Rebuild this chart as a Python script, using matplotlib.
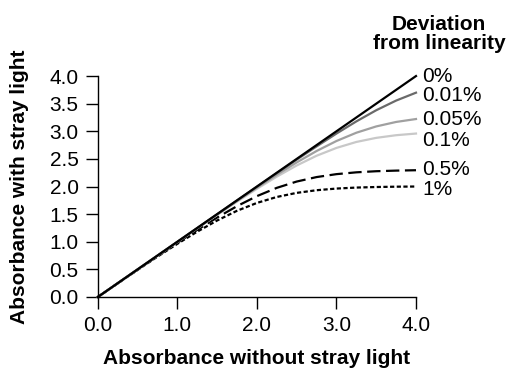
import matplotlib.pyplot as plt

plt.rcParams['font.family'] = ['Liberation Sans', 'DejaVu Sans']

# absorbance without stray light
x = [0.0, 0.25, 0.5, 0.75, 1.0, 1.25, 1.5, 1.75, 2.0,
     2.25, 2.5, 2.75, 3.0, 3.25, 3.5, 3.75, 4.0]

# absorbance with stray light, one list per deviation level
y_0 = [0.0, 0.25, 0.5, 0.75, 1.0, 1.25, 1.5, 1.75, 2.0,
       2.25, 2.5, 2.75, 3.0, 3.25, 3.5, 3.75, 4.0]
y_001 = [0.0, 0.25, 0.5, 0.75, 1.0, 1.249, 1.499, 1.748, 1.996,
         2.242, 2.487, 2.726, 2.959, 3.179, 3.381, 3.556, 3.699]
y_005 = [0.0, 0.25, 0.5, 0.749, 0.998, 1.246, 1.493, 1.738, 1.979,
         2.213, 2.436, 2.643, 2.824, 2.974, 3.088, 3.169, 3.222]
y_01 = [0.0, 0.25, 0.499, 0.748, 0.996, 1.243, 1.487, 1.727, 1.959,
        2.179, 2.381, 2.557, 2.699, 2.807, 2.881, 2.929, 2.959]
y_05 = [0.0, 0.248, 0.495, 0.740, 0.981, 1.215, 1.439, 1.645, 1.826,
        1.976, 2.090, 2.171, 2.224, 2.257, 2.277, 2.288, 2.295]
y_1 = [0.0, 0.247, 0.491, 0.731, 0.963, 1.183, 1.385, 1.561, 1.703,
       1.811, 1.885, 1.933, 1.963, 1.981, 1.991, 1.997, 2.000]

labels = ['0%', '0.01%', '0.05%', '0.1%', '0.5%', '1%']
series = [y_0, y_001, y_005, y_01, y_05, y_1]

colors = ['black', '#6a6a6a', '#a0a0a0', '#c8c8c8', 'black', 'black']
styles = ['-', '-', '-', '-', (0, (6, 2.5)), (0, (1.9, 1.1))]
label_y = [3.99, 3.64, 3.21, 2.84, 2.30, 1.95]

fig = plt.figure(figsize=(5.07, 3.71), dpi=100)
ax = fig.add_axes([0.193, 0.1995, 0.6275, 0.5955])

# dashed curves first so the solid ones sit on top
for i in reversed(range(len(series))):
    ax.plot(x, series[i], color=colors[i], linestyle=styles[i],
            linewidth=1.6, clip_on=False)

for lab, ly in zip(labels, label_y):
    ax.annotate(lab, xy=(4.0, ly), xytext=(4.5, 0), textcoords='offset points',
                va='center', ha='left', fontsize=15)

ax.text(1.072, 1.192, 'Deviation\nfrom linearity', transform=ax.transAxes,
        ha='center', va='center', fontsize=15, fontweight='bold',
        linespacing=1.0)

ax.set_xlim(0, 4)
ax.set_ylim(0, 4)
ax.set_xticks([0, 1, 2, 3, 4])
ax.set_xticklabels(['0.0', '1.0', '2.0', '3.0', '4.0'])
ax.set_yticks([0, 0.5, 1, 1.5, 2, 2.5, 3, 3.5, 4])
ax.set_yticklabels(['0.0', '0.5', '1.0', '1.5', '2.0', '2.5', '3.0', '3.5', '4.0'])

for side in ['top', 'right']:
    ax.spines[side].set_visible(False)
for side in ['left', 'bottom']:
    ax.spines[side].set_linewidth(1.0)
ax.tick_params(axis='both', direction='out', length=8.8, width=1.0,
               labelsize=15, pad=5)

ax.set_xlabel('Absorbance without stray light', fontsize=15,
              fontweight='bold', labelpad=10)
ax.set_ylabel('Absorbance with stray light', fontsize=15,
              fontweight='bold', labelpad=15)

fig.savefig('out.png', dpi=100)
